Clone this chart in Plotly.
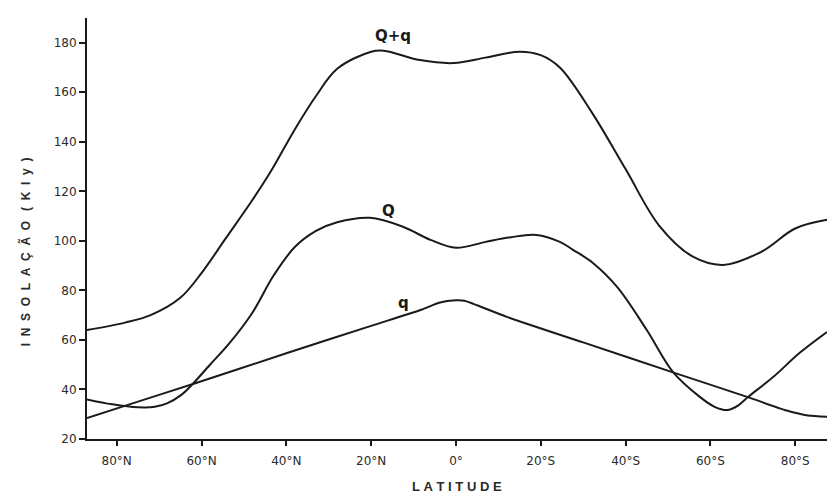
import plotly.graph_objects as go

# Latitude positions: negative = North, positive = South (degrees)
lat_Qq = [-87, -78, -72, -65, -60, -54.5, -48, -43.5, -38, -33, -28, -20, -17, -8.5, -0.5, 7, 15, 20, 24.5, 32, 40, 48, 56, 63, 72, 80, 87.5]
val_Qq = [64, 67, 70, 77, 87, 100.5, 116.5, 128.5, 145, 158.5, 169.5, 176.4, 176.8, 173, 171.8, 174, 176.4, 175, 170, 152, 129, 106, 93.5, 90.3, 95.6, 105, 108.5]

lat_Q = [-87, -81, -75, -71, -68, -65, -62.3, -58, -53.5, -48, -43, -38, -33, -28, -20.3, -12.5, -6, 0, 7, 13, 19, 24.5, 27.6, 32.3, 38, 45, 51.2, 57.5, 61, 64, 66.5, 68.9, 74.8, 81, 87.5]
val_Q = [36, 34, 32.8, 33, 34.5, 37.5, 41.8, 50, 58.5, 71, 86, 97.5, 104, 107.5, 109.3, 105.7, 100.4, 97.2, 99.6, 101.5, 102.4, 99.6, 96.4, 91.1, 81.4, 64, 47, 37, 33, 31.7, 33.5, 37, 45, 54.7, 63.2]

lat_q = [-87, -77, -62, -40, -20, -8, -4, 0, 2, 5, 12, 30, 51, 69, 78, 83, 87.5]
val_q = [28.5, 34, 42.2, 54.6, 65.7, 72.3, 75, 76, 75.8, 74, 69.3, 59, 47, 36.8, 31.5, 29.5, 29]

tick_pos = [-80, -60, -40, -20, 0, 20, 40, 60, 80]
tick_text = ["80°N", "60°N", "40°N", "20°N", "0°", "20°S", "40°S", "60°S", "80°S"]
y_ticks = [20, 40, 60, 80, 100, 120, 140, 160, 180]

curve_labels = ["Q+q", "Q", "q"]
label_x = [-14.9, -15.8, -12.3]
label_y = [182.6, 112.1, 75.0]

x_title = "LATITUDE"
y_title_words = ["INSOLAÇÃO", "(Kly)"]

fig = go.Figure()
line_style = dict(color="#1a1a1a", width=2)
fig.add_trace(go.Scatter(x=lat_Qq, y=val_Qq, mode="lines", line=dict(**line_style, shape="spline", smoothing=1.0)))
fig.add_trace(go.Scatter(x=lat_Q, y=val_Q, mode="lines", line=dict(**line_style, shape="spline", smoothing=1.0)))
fig.add_trace(go.Scatter(x=lat_q, y=val_q, mode="lines", line=dict(**line_style, shape="spline", smoothing=0.6)))

for t, xx, yy in zip(curve_labels, label_x, label_y):
    fig.add_annotation(x=xx, y=yy, text=f"<b>{t}</b>", showarrow=False,
                       font=dict(family="DejaVu Sans, sans-serif", size=15, color="#1a1a1a"))

font = dict(family="DejaVu Sans, sans-serif", size=12, color="#2a2a2a")

fig.update_layout(
    width=827, height=495,
    margin=dict(l=87, r=0, t=18, b=56),
    plot_bgcolor="white", paper_bgcolor="white",
    showlegend=False,
    font=font,
    xaxis=dict(range=[-87.0, 87.5], tickmode="array", tickvals=tick_pos, ticktext=tick_text,
               showgrid=False, zeroline=False, showline=True, linecolor="#1a1a1a", linewidth=2,
               ticks="outside", ticklen=5, tickwidth=1.5, tickcolor="#1a1a1a",
               ticklabelstandoff=5, tickfont=font),
    yaxis=dict(range=[20, 190], tickmode="array", tickvals=y_ticks,
               showgrid=False, zeroline=False, showline=True, linecolor="#1a1a1a", linewidth=2,
               ticks="outside", ticklen=6, tickwidth=1.5, tickcolor="#1a1a1a",
               tickfont=font),
)

nb = "\u00a0"
xt = nb.join(x_title)
yt = (nb * 3).join((nb * 2).join(w) for w in y_title_words)

fig.add_annotation(xref="paper", yref="paper", x=0.5, y=-0.113, xanchor="center", yanchor="middle",
                   text=f"<b>{xt}</b>", showarrow=False,
                   font=dict(family="Liberation Sans, Arial, sans-serif", size=13, color="#2a2a2a"))
fig.add_annotation(xref="paper", yref="paper", x=-0.083, y=0.445, xanchor="center", yanchor="middle",
                   text=f"<b>{yt}</b>", showarrow=False, textangle=-90,
                   font=dict(family="Liberation Sans, Arial, sans-serif", size=12, color="#2a2a2a"))

fig.write_html("out.html")
